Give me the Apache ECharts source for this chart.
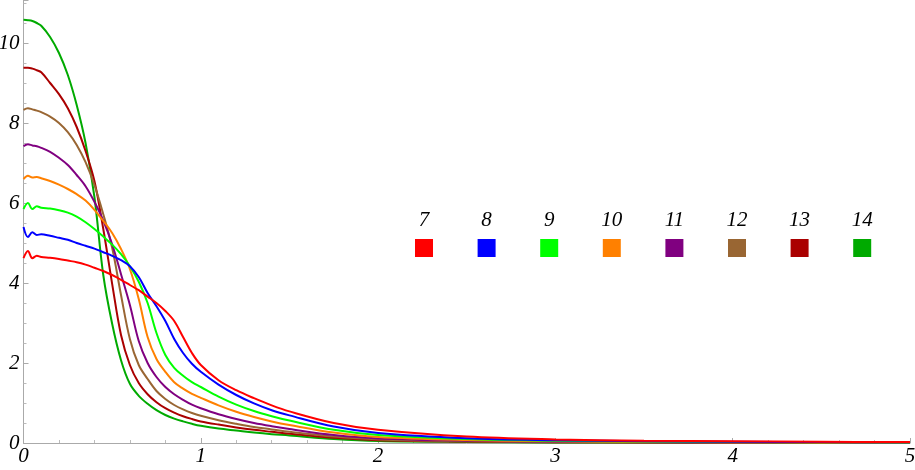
<!DOCTYPE html>
<html>
<head>
<meta charset="utf-8">
<script src="https://cdn.jsdelivr.net/npm/echarts@6/dist/echarts.min.js"></script>
<style>
  html, body { margin: 0; padding: 0; background: #fff; }
  #chart { width: 915px; height: 470px; }
</style>
</head>
<body>
<div id="chart"></div>
<script>
// sample positions along x
const xs = [0, 0.025, 0.05, 0.075, 0.1, 0.15, 0.2, 0.25, 0.3, 0.35, 0.4, 0.45, 0.5, 0.55, 0.6, 0.65, 0.7, 0.75, 0.8, 0.85, 0.9, 0.95, 1.0, 1.1, 1.2, 1.3, 1.4, 1.5, 1.75, 2, 2.5, 3, 3.5, 4, 4.5, 5]

const names = ['7', '8', '9', '10', '11', '12', '13', '14']
const colors = ['#ff0000', '#0000ff', '#00ff00', '#ff8000', '#800080', '#996633', '#aa0000', '#00aa00']

const y7 = [4.62, 4.8, 4.62, 4.68, 4.65, 4.63, 4.6, 4.56, 4.52, 4.46, 4.38, 4.3, 4.2, 4.08, 3.95, 3.82, 3.66, 3.5, 3.3, 3.05, 2.65, 2.25, 1.95, 1.57, 1.32, 1.12, 0.94, 0.79, 0.5, 0.33, 0.16, 0.09, 0.058, 0.042, 0.031, 0.023]
const y8 = [5.4, 5.15, 5.27, 5.2, 5.22, 5.18, 5.13, 5.08, 5.0, 4.93, 4.86, 4.77, 4.68, 4.57, 4.42, 4.15, 3.75, 3.42, 3.05, 2.6, 2.25, 1.98, 1.78, 1.46, 1.2, 0.99, 0.82, 0.69, 0.41, 0.25, 0.12, 0.07, 0.045, 0.032, 0.024, 0.018]
const y9 = [5.85, 6.0, 5.85, 5.92, 5.88, 5.86, 5.82, 5.76, 5.66, 5.52, 5.35, 5.16, 4.96, 4.72, 4.42, 4.03, 3.5, 2.75, 2.2, 1.88, 1.68, 1.52, 1.4, 1.16, 0.96, 0.8, 0.67, 0.56, 0.33, 0.2, 0.1, 0.055, 0.036, 0.025, 0.019, 0.015]
const y10 = [6.6, 6.68, 6.64, 6.65, 6.62, 6.55, 6.46, 6.35, 6.22, 6.06, 5.83, 5.55, 5.25, 4.85, 4.35, 3.6, 2.65, 2.1, 1.78, 1.52, 1.36, 1.23, 1.13, 0.94, 0.78, 0.65, 0.54, 0.45, 0.26, 0.15, 0.075, 0.042, 0.028, 0.02, 0.015, 0.011]
const y11 = [7.42, 7.47, 7.44, 7.42, 7.38, 7.28, 7.13, 6.95, 6.7, 6.42, 6.03, 5.56, 4.97, 4.22, 3.45, 2.55, 2.0, 1.65, 1.4, 1.22, 1.08, 0.96, 0.87, 0.72, 0.6, 0.5, 0.42, 0.35, 0.2, 0.115, 0.058, 0.034, 0.023, 0.017, 0.012, 0.009]
const y12 = [8.33, 8.37, 8.34, 8.31, 8.27, 8.16, 8.0, 7.77, 7.45, 7.02, 6.45, 5.72, 4.88, 3.7, 2.6, 1.95, 1.6, 1.3, 1.1, 0.95, 0.84, 0.75, 0.68, 0.57, 0.48, 0.4, 0.34, 0.28, 0.16, 0.09, 0.045, 0.027, 0.018, 0.013, 0.01, 0.007]
const y13 = [9.38, 9.38, 9.36, 9.32, 9.27, 9.0, 8.72, 8.37, 7.9, 7.3, 6.55, 5.35, 3.98, 2.7, 1.95, 1.5, 1.22, 1.02, 0.87, 0.76, 0.67, 0.6, 0.54, 0.46, 0.39, 0.33, 0.28, 0.23, 0.13, 0.07, 0.035, 0.021, 0.014, 0.01, 0.008, 0.006]
const y14 = [10.58, 10.57, 10.55, 10.5, 10.43, 10.15, 9.75, 9.2, 8.45, 7.5, 6.15, 4.2, 2.98, 2.07, 1.48, 1.18, 0.98, 0.82, 0.7, 0.61, 0.54, 0.48, 0.43, 0.36, 0.31, 0.26, 0.22, 0.19, 0.1, 0.05, 0.025, 0.015, 0.01, 0.008, 0.006, 0.005]

const allY = [y7, y8, y9, y10, y11, y12, y13, y14]

const font = 'Liberation Serif'
const labelStyle = { fontFamily: font, fontStyle: 'italic', fontSize: 21, color: '#000' }

const chart = echarts.init(document.getElementById('chart'))

const series = names.map((n, i) => ({
  name: n,
  type: 'line',
  data: xs.map((x, k) => [x, allY[i][k]]),
  showSymbol: false,
  smooth: 0.35,
  lineStyle: { width: 2, color: colors[i] },
  itemStyle: { color: colors[i] },
  z: 10 - i
}))

// one legend per entry so each square sits at its own spot
const legendLeft = 415
const legendStep = 62.6
const legends = names.map((n, i) => ({
  data: [n],
  left: legendLeft + i * legendStep,
  top: 239,
  icon: 'rect',
  itemWidth: 18,
  itemHeight: 18,
  formatter: () => '',
  padding: 0
}))

const labels = names.map((n, i) => ({
  type: 'text',
  x: legendLeft + i * legendStep + 9,
  y: 210,
  style: {
    text: n,
    fontFamily: font,
    fontStyle: 'italic',
    fontSize: 21,
    fill: '#000',
    align: 'center'
  }
}))

const option = {
  animation: false,
  grid: { left: 23.5, right: 5, top: 0, bottom: 27, containLabel: false, outerBoundsMode: 'none' },
  legend: legends,
  graphic: labels,
  xAxis: {
    type: 'value',
    min: 0,
    max: 5,
    interval: 1,
    axisLine: { lineStyle: { color: '#aaaaaa', width: 1 } },
    axisTick: { show: true, inside: true, length: 5, lineStyle: { color: '#aaaaaa' } },
    minorTick: { show: true, splitNumber: 5, length: 3, lineStyle: { color: '#bbbbbb' } },
    splitLine: { show: false },
    axisLabel: Object.assign({ margin: 3 }, labelStyle)
  },
  yAxis: {
    type: 'value',
    min: 0,
    max: 11.075,
    interval: 2,
    axisLine: { show: true, lineStyle: { color: '#aaaaaa', width: 1 } },
    axisTick: { show: true, inside: true, length: 5, lineStyle: { color: '#aaaaaa' } },
    minorTick: { show: true, splitNumber: 4, length: 3, lineStyle: { color: '#bbbbbb' } },
    splitLine: { show: false },
    axisLabel: Object.assign({ margin: 4, showMaxLabel: false }, labelStyle)
  },
  series: series
}

chart.setOption(option)
</script>
</body>
</html>
